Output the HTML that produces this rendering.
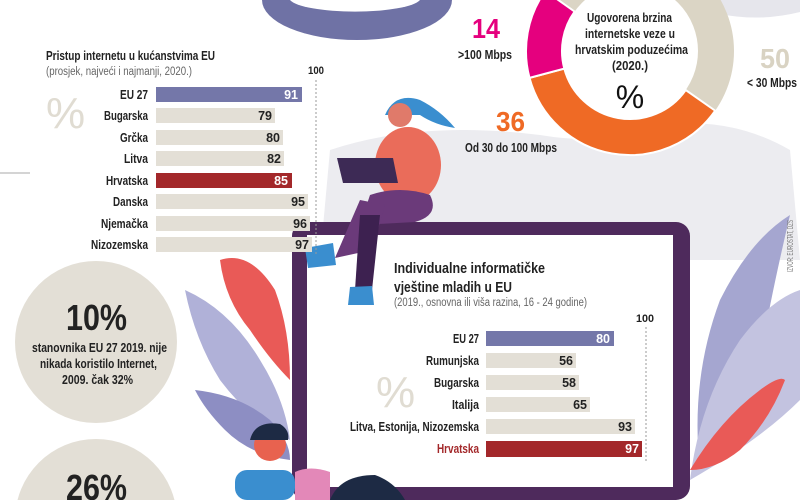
<!DOCTYPE html>
<html><head><meta charset="utf-8"><style>
html,body{margin:0;padding:0;background:#fff;width:800px;height:500px;overflow:hidden;}
svg{display:block;font-family:"Liberation Sans Narrow","Liberation Sans",sans-serif;}
.b{font-weight:bold;}
</style></head><body>
<svg width="800" height="500" viewBox="0 0 800 500" xmlns="http://www.w3.org/2000/svg">
<path d="M330 150 Q420 120 540 135 Q600 145 640 130 Q720 110 790 150 L800 260 L320 260 Z" fill="#ececf0"/>
<path d="M690 0 L800 0 L800 12 Q760 22 720 14 Q700 10 690 0Z" fill="#e6e6ec"/>
<path d="M262 0 A95 40 0 0 0 452 0 Z" fill="#6f72a5"/>
<path d="M290 0 A66 14 0 0 0 420 0 Z" fill="#fff"/>
<!-- right leaves -->
<path d="M700 470 Q690 380 720 300 Q750 240 790 215 Q770 300 760 360 Q740 430 700 470Z" fill="#a5a6d0"/>
<path d="M690 480 Q700 400 740 340 Q770 300 800 290 L800 400 Q760 440 690 480Z" fill="#c3c3e0"/>
<path d="M690 470 Q720 420 760 390 Q780 375 785 380 Q770 420 740 450 Q715 470 690 470Z" fill="#e95a57"/>
<!-- left leaves -->
<path d="M220 260 Q250 250 275 290 Q290 330 290 380 Q270 360 250 330 Q225 300 220 260Z" fill="#e95a57"/>
<path d="M185 290 Q230 310 260 360 Q285 400 290 440 Q250 420 220 380 Q195 340 185 290Z" fill="#b0b1d8"/>
<path d="M195 390 Q240 395 270 420 Q290 440 290 460 Q250 455 225 430 Q205 410 195 390Z" fill="#8d8ec3"/>
<!-- laptop -->
<rect x="292" y="222" width="398" height="278" rx="14" fill="#4e2a5c"/>
<rect x="307" y="235" width="366" height="252" fill="#fff"/>
<!-- guy -->
<rect x="235" y="470" width="60" height="30" rx="12" fill="#3a8ecf"/>
<circle cx="270" cy="445" r="16" fill="#e8624f"/>
<path d="M250 440 Q255 420 280 424 Q290 430 288 440 Z" fill="#1d2a44"/>
<path d="M330 500 Q340 475 375 475 Q395 482 405 500Z" fill="#1d2a44"/>
<path d="M295 472 Q310 465 330 472 L330 500 L295 500Z" fill="#e388b8"/>
<!-- woman -->
<path d="M385 115 Q395 92 420 100 Q440 110 455 128 Q435 125 420 115Z" fill="#3a8ecf"/>
<circle cx="400" cy="115" r="12" fill="#e07a6a"/>
<ellipse cx="408" cy="165" rx="33" ry="38" fill="#ea6c5a"/>
<path d="M370 195 Q400 185 430 195 Q440 215 415 222 L360 225 Z" fill="#6b3a7a"/>
<path d="M360 200 L385 205 L372 250 L335 258 Z" fill="#6b3a7a"/>
<path d="M360 215 L380 215 L372 290 L355 290 Z" fill="#3d2150"/>
<path d="M305 248 L333 243 L336 265 L308 268Z" fill="#3a8ecf"/>
<path d="M350 287 L372 286 L374 305 L348 305Z" fill="#3a8ecf"/>
<path d="M337 158 L393 158 L398 183 L343 183Z" fill="#3d2a55"/>
<!-- chart 1 -->
<text x="46" y="60" class="b" font-size="12.5" fill="#222" textLength="169" lengthAdjust="spacingAndGlyphs">Pristup internetu u kućanstvima EU</text>
<text x="46" y="75" font-size="11.5" fill="#666" textLength="146" lengthAdjust="spacingAndGlyphs">(prosjek, najveći i najmanji, 2020.)</text>
<text x="308" y="74" class="b" font-size="11" fill="#222" textLength="16" lengthAdjust="spacingAndGlyphs">100</text>
<line x1="316" y1="80" x2="316" y2="255" stroke="#999" stroke-dasharray="2,2"/>
<text x="46" y="128" font-size="44" fill="#e0dcd2">%</text>
<g font-size="12.5" class="b" fill="#222">
<rect x="156" y="87" width="146" height="15" fill="#7477a9"/><text x="148" y="99" text-anchor="end" textLength="28" lengthAdjust="spacingAndGlyphs">EU 27</text><text x="298" y="99" text-anchor="end" fill="#fff">91</text>
<rect x="156" y="108" width="119" height="15" fill="#e3dfd6"/><text x="148" y="120" text-anchor="end" textLength="44" lengthAdjust="spacingAndGlyphs">Bugarska</text><text x="272" y="120" text-anchor="end">79</text>
<rect x="156" y="130" width="127" height="15" fill="#e3dfd6"/><text x="148" y="142" text-anchor="end" textLength="28" lengthAdjust="spacingAndGlyphs">Grčka</text><text x="280" y="142" text-anchor="end">80</text>
<rect x="156" y="151" width="128" height="15" fill="#e3dfd6"/><text x="148" y="163" text-anchor="end" textLength="24" lengthAdjust="spacingAndGlyphs">Litva</text><text x="281" y="163" text-anchor="end">82</text>
<rect x="156" y="173" width="136" height="15" fill="#a3282a"/><text x="148" y="185" text-anchor="end" textLength="42" lengthAdjust="spacingAndGlyphs">Hrvatska</text><text x="288" y="185" text-anchor="end" fill="#fff">85</text>
<rect x="156" y="194" width="152" height="15" fill="#e3dfd6"/><text x="148" y="206" text-anchor="end" textLength="35" lengthAdjust="spacingAndGlyphs">Danska</text><text x="305" y="206" text-anchor="end">95</text>
<rect x="156" y="216" width="154" height="15" fill="#e3dfd6"/><text x="148" y="228" text-anchor="end" textLength="47" lengthAdjust="spacingAndGlyphs">Njemačka</text><text x="307" y="228" text-anchor="end">96</text>
<rect x="156" y="237" width="156" height="15" fill="#e3dfd6"/><text x="148" y="249" text-anchor="end" textLength="57" lengthAdjust="spacingAndGlyphs">Nizozemska</text><text x="309" y="249" text-anchor="end">97</text>
</g>
<line x1="0" y1="173" x2="30" y2="173" stroke="#aaa"/>
<!-- circles -->
<circle cx="96" cy="342" r="81" fill="#e3dfd6"/>
<circle cx="96" cy="520" r="81" fill="#e3dfd6"/>
<text x="66" y="330" class="b" font-size="36" fill="#222" textLength="61" lengthAdjust="spacingAndGlyphs">10%</text>
<g font-size="12.5" class="b" fill="#222">
<text x="32" y="352" textLength="135" lengthAdjust="spacingAndGlyphs">stanovnika EU 27 2019. nije</text>
<text x="40" y="368" textLength="117" lengthAdjust="spacingAndGlyphs">nikada koristilo Internet,</text>
<text x="62" y="384" textLength="71" lengthAdjust="spacingAndGlyphs">2009. čak 32%</text>
</g>
<text x="66" y="500" class="b" font-size="36" fill="#222" textLength="61" lengthAdjust="spacingAndGlyphs">26%</text>
<!-- donut -->
<circle cx="630" cy="51" r="86" fill="none" stroke="#dbd5c5" stroke-width="36"/>
<g stroke="#fff" stroke-width="2">
<path d="M715.2 110.7 A104 104 0 0 1 529.5 77.9 L564.3 68.6 A68 68 0 0 0 685.7 90Z" fill="#ef6a25"/>
<path d="M529.5 77.9 A104 104 0 0 1 545.3 -9.2 L574.6 11.6 A68 68 0 0 0 564.3 68.6Z" fill="#e5007e"/>
</g>
<g font-size="12.5" class="b" fill="#222">
<text x="587" y="22" textLength="85" lengthAdjust="spacingAndGlyphs">Ugovorena brzina</text>
<text x="585" y="38" textLength="90" lengthAdjust="spacingAndGlyphs">internetske veze u</text>
<text x="575" y="54" textLength="113" lengthAdjust="spacingAndGlyphs">hrvatskim poduzećima</text>
<text x="612" y="70" textLength="36" lengthAdjust="spacingAndGlyphs">(2020.)</text>
</g>
<text x="630" y="108" text-anchor="middle" font-size="32" fill="#111">%</text>
<text x="472" y="38" class="b" font-size="28" fill="#e5007e" textLength="28" lengthAdjust="spacingAndGlyphs">14</text>
<text x="458" y="59" class="b" font-size="12.5" fill="#222" textLength="54" lengthAdjust="spacingAndGlyphs">&gt;100 Mbps</text>
<text x="496" y="131" class="b" font-size="28" fill="#ef6a25" textLength="29" lengthAdjust="spacingAndGlyphs">36</text>
<text x="465" y="152" class="b" font-size="12.5" fill="#222" textLength="92" lengthAdjust="spacingAndGlyphs">Od 30 do 100 Mbps</text>
<text x="760" y="68" class="b" font-size="28" fill="#d9d3c3" textLength="30" lengthAdjust="spacingAndGlyphs">50</text>
<text x="747" y="87" class="b" font-size="12.5" fill="#222" textLength="50" lengthAdjust="spacingAndGlyphs">&lt; 30 Mbps</text>
<text transform="translate(793,272) rotate(-90)" font-size="8" fill="#777" textLength="52" lengthAdjust="spacingAndGlyphs">IZVOR: EUROSTAT, DZS</text>
<!-- chart 2 -->
<text x="394" y="273" class="b" font-size="15" fill="#222" textLength="151" lengthAdjust="spacingAndGlyphs">Individualne informatičke</text>
<text x="394" y="292" class="b" font-size="15" fill="#222" textLength="118" lengthAdjust="spacingAndGlyphs">vještine mladih u EU</text>
<text x="394" y="306" font-size="11.5" fill="#666" textLength="193" lengthAdjust="spacingAndGlyphs">(2019., osnovna ili viša razina, 16 - 24 godine)</text>
<text x="636" y="322" class="b" font-size="11" fill="#222" textLength="18" lengthAdjust="spacingAndGlyphs">100</text>
<line x1="646" y1="327" x2="646" y2="462" stroke="#999" stroke-dasharray="2,2"/>
<text x="376" y="407" font-size="44" fill="#e0dcd2">%</text>
<g font-size="12.5" class="b" fill="#222">
<rect x="486" y="331" width="128" height="15" fill="#7477a9"/><text x="479" y="343" text-anchor="end" textLength="26" lengthAdjust="spacingAndGlyphs">EU 27</text><text x="610" y="343" text-anchor="end" fill="#fff">80</text>
<rect x="486" y="353" width="90" height="15" fill="#e3dfd6"/><text x="479" y="365" text-anchor="end" textLength="53" lengthAdjust="spacingAndGlyphs">Rumunjska</text><text x="573" y="365" text-anchor="end">56</text>
<rect x="486" y="375" width="93" height="15" fill="#e3dfd6"/><text x="479" y="387" text-anchor="end" textLength="45" lengthAdjust="spacingAndGlyphs">Bugarska</text><text x="576" y="387" text-anchor="end">58</text>
<rect x="486" y="397" width="104" height="15" fill="#e3dfd6"/><text x="479" y="409" text-anchor="end" textLength="27" lengthAdjust="spacingAndGlyphs">Italija</text><text x="587" y="409" text-anchor="end">65</text>
<rect x="486" y="419" width="149" height="15" fill="#e3dfd6"/><text x="479" y="431" text-anchor="end" textLength="129" lengthAdjust="spacingAndGlyphs">Litva, Estonija, Nizozemska</text><text x="632" y="431" text-anchor="end">93</text>
<rect x="486" y="441" width="156" height="16" fill="#a3282a"/><text x="479" y="453" text-anchor="end" fill="#a3282a" textLength="42" lengthAdjust="spacingAndGlyphs">Hrvatska</text><text x="639" y="453" text-anchor="end" fill="#fff">97</text>
</g>
</svg>
</body></html>
